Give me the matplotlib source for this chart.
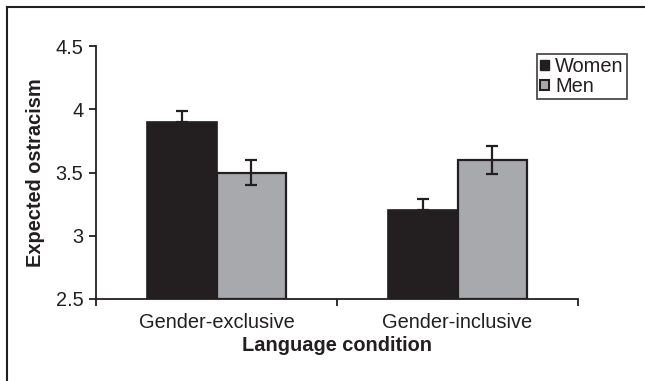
import matplotlib
matplotlib.use("Agg")
import matplotlib.pyplot as plt
from matplotlib.patches import Patch
from matplotlib.lines import Line2D
import numpy as np

plt.rcParams['font.family'] = ['Liberation Sans', 'DejaVu Sans']

conditions = ["Gender-exclusive", "Gender-inclusive"]
women = [3.9, 3.2]
men = [3.5, 3.6]
women_err = [0.09, 0.09]
men_err = [0.10, 0.11]

women_color = "#231f20"
men_color = "#a7a9ac"

fig = plt.figure(figsize=(6.45, 3.81), dpi=100)
ax = fig.add_axes([96 / 645, 1 - 299 / 381, (578 - 96) / 645, (299 - 46) / 381])

centers = np.arange(len(conditions)) + 0.5
bw = 0.29

ax.bar(centers - bw / 2, [w - 2.5 for w in women], bw, bottom=2.5,
       color=women_color, edgecolor=women_color, linewidth=1.2, zorder=2)
ax.bar(centers + bw / 2, [m - 2.5 for m in men], bw, bottom=2.5,
       color=men_color, edgecolor=women_color, linewidth=1.6, zorder=2)

ax.errorbar(centers - bw / 2, women, yerr=[[0] * len(women), women_err],
            fmt="none", ecolor=women_color, elinewidth=1.6, capsize=4,
            capthick=1.6, zorder=3)
ax.errorbar(centers + bw / 2, men, yerr=men_err,
            fmt="none", ecolor=women_color, elinewidth=1.6, capsize=4,
            capthick=1.6, zorder=3)

ax.set_xlim(0, len(conditions))
ax.set_ylim(2.5, 4.5)
ax.set_yticks([2.5, 3, 3.5, 4, 4.5])
ax.set_yticklabels(["2.5", "3", "3.5", "4", "4.5"])
ax.set_xticks(np.arange(len(conditions) + 1))
ax.set_xticklabels([])
ax.set_xticks(centers, minor=True)
ax.set_xticklabels(conditions, minor=True)
ax.tick_params(axis="x", which="minor", length=0, pad=10, labelsize=14.4, colors="#231f20")
ax.tick_params(axis="x", which="major", length=5, width=1.3, direction="out", color="#231f20")
ax.tick_params(axis="y", length=5, width=1.3, direction="out", labelsize=14.4,
               colors="#231f20", pad=4)

for s in ["top", "right"]:
    ax.spines[s].set_visible(False)
for s in ["left", "bottom"]:
    ax.spines[s].set_linewidth(1.3)
    ax.spines[s].set_color("#231f20")

ax.set_xlabel("Language condition", fontsize=14.4, fontweight="bold", color="#231f20", labelpad=3)
ax.set_ylabel("Expected ostracism", fontsize=14.4, fontweight="bold", color="#231f20", labelpad=8)

handles = [Patch(facecolor=women_color, edgecolor=women_color, linewidth=1),
           Patch(facecolor=men_color, edgecolor=women_color, linewidth=1.5)]
leg = ax.legend(handles, ["Women", "Men"], loc="upper left",
                bbox_to_anchor=(537 / 645, 1 - 54 / 381), bbox_transform=fig.transFigure,
                fontsize=14.4, frameon=True, fancybox=False, handlelength=0.45,
                handleheight=0.45, handletextpad=0.3, borderpad=0.15,
                labelspacing=0.05, borderaxespad=0)
leg.get_frame().set_edgecolor("#231f20")
leg.get_frame().set_linewidth(1.3)
for t in leg.get_texts():
    t.set_color("#231f20")

# outer frame: top and left edges only
fig.add_artist(Line2D([7 / 645, 1], [1 - 7 / 381, 1 - 7 / 381], transform=fig.transFigure,
                      color="#231f20", linewidth=1.5))
fig.add_artist(Line2D([7 / 645, 7 / 645], [0, 1 - 7 / 381], transform=fig.transFigure,
                      color="#231f20", linewidth=1.5))

fig.savefig("out.png", dpi=100)
